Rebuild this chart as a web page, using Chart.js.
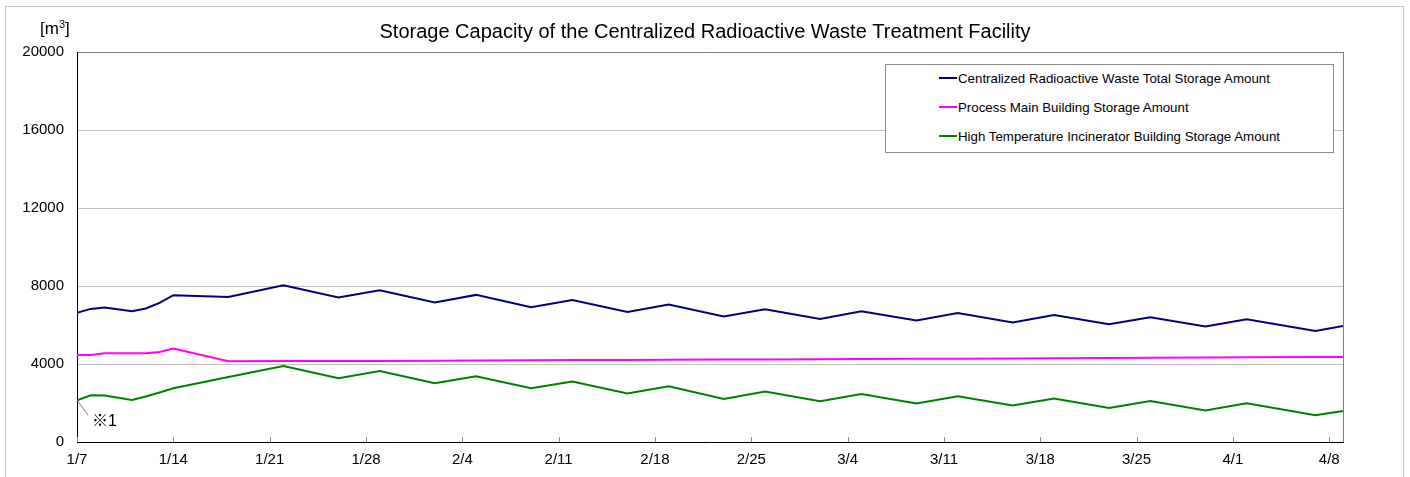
<!DOCTYPE html>
<html>
<head>
<meta charset="utf-8">
<script src="https://cdn.jsdelivr.net/npm/chart.js@4.4.1/dist/chart.umd.min.js"></script>
<style>
  html, body { margin: 0; padding: 0; background: #fff; overflow: hidden; }
  body { width: 1410px; height: 477px; position: relative; font-family: Arial, "Liberation Sans", sans-serif; }
  .frame { position: absolute; left: 5px; top: 6px; width: 1397px; height: 520px; border: 1px solid #c4c4c4; }
  canvas { position: absolute; left: 0; top: 0; }
  .unit { position: absolute; left: 40px; top: 19px; font-size: 17px; color: #000; line-height: 20px; }
  .unit sup { font-size: 11px; vertical-align: 6px; line-height: 0; }
  .note { position: absolute; font-size: 16px; line-height: 18px; color: #000; font-family: Arial, "Noto Sans CJK JP", sans-serif; }
  .legend { position: absolute; left: 885px; top: 64px; width: 447px; height: 87px; border: 1px solid #8c8c8c; background: #fff; }
  .legend .item { position: absolute; left: 53px; font-size: 13.3px; color: #000; white-space: nowrap; }
  .legend .swatch { display: inline-block; width: 18px; height: 2px; vertical-align: middle; margin-right: 1px; position: relative; top: -1px; }
</style>
</head>
<body>
<div class="frame"></div>
<canvas id="chart" width="1410" height="477"></canvas>
<div class="unit">[m<sup>3</sup>]</div>
<div class="note" id="note">※1</div>
<div class="legend" id="legend"></div>

<script>
// measured dates (year 2013, axis runs 1/7 .. 4/9)
const sampleDates = ['1/7', '1/8', '1/9', '1/11', '1/12', '1/13', '1/14', '1/18', '1/22', '1/26', '1/29',
  '2/2', '2/5', '2/9', '2/12', '2/16', '2/19', '2/23', '2/26',
  '3/2', '3/5', '3/9', '3/12', '3/16', '3/19', '3/23', '3/26', '3/30',
  '4/2', '4/7', '4/9'];

const totalStorage = [6620, 6826, 6897, 6708, 6846, 7133, 7529, 7441, 8042, 7410, 7785,
  7154, 7544, 6913, 7287, 6672, 7051, 6435, 6810,
  6312, 6708, 6230, 6620, 6127, 6518, 6040, 6400, 5922,
  6297, 5697, 5953];

const processMainStorage = [4465, 4465, 4552, 4552, 4552, 4619, 4793, 4141, 4150, 4155, 4160,
  4170, 4180, 4190, 4200, 4210, 4215, 4225, 4235,
  4245, 4255, 4265, 4275, 4285, 4295, 4305, 4315, 4330,
  4340, 4355, 4365];

const incineratorStorage = [2140, 2397, 2381, 2155, 2330, 2540, 2756, 3336, 3900, 3269, 3644,
  3012, 3372, 2756, 3100, 2484, 2858, 2207, 2587,
  2089, 2463, 1971, 2345, 1868, 2227, 1745, 2104, 1611,
  1986, 1370, 1591];

const tickLabels = ['1/7', '1/14', '1/21', '1/28', '2/4', '2/11', '2/18', '2/25', '3/4', '3/11', '3/18', '3/25', '4/1', '4/8'];
const axisStart = '1/7';
const axisEnd = '4/9';

const seriesNames = [
  'Centralized Radioactive Waste Total Storage Amount',
  'Process Main Building Storage Amount',
  'High Temperature Incinerator Building Storage Amount'
];
const seriesColors = ['#000080', '#ff00ff', '#008000'];

const YEAR = 2013;
function dayIndex(md) {
  const [m, d] = md.split('/').map(Number);
  const [m0, d0] = axisStart.split('/').map(Number);
  return Math.round((Date.UTC(YEAR, m - 1, d) - Date.UTC(YEAR, m0 - 1, d0)) / 86400000);
}
const toPoints = vals => vals.map((v, i) => ({ x: dayIndex(sampleDates[i]), y: v }));

const FONT = 'Arial, "Liberation Sans", sans-serif';

const frameAndNote = {
  id: 'frameAndNote',
  afterDraw(chart) {
    const { ctx, chartArea: a, scales: { x, y } } = chart;
    ctx.save();
    // inside tick marks on x axis
    ctx.strokeStyle = '#8c8c8c';
    ctx.lineWidth = 1;
    x.ticks.forEach(t => {
      const px = Math.round(x.getPixelForValue(t.value)) + 0.5;
      ctx.beginPath();
      ctx.moveTo(px, a.bottom);
      ctx.lineTo(px, a.bottom - 5);
      ctx.stroke();
    });
    // right border of plot area
    ctx.strokeStyle = '#808080';
    ctx.beginPath();
    ctx.moveTo(Math.round(a.right) + 0.5, a.top);
    ctx.lineTo(Math.round(a.right) + 0.5, a.bottom);
    ctx.stroke();
    // leader line for note 1
    const px = x.getPixelForValue(dayIndex(sampleDates[0]));
    const py = y.getPixelForValue(incineratorStorage[0]);
    ctx.strokeStyle = '#808080';
    ctx.beginPath();
    ctx.moveTo(px + 1, py + 1);
    ctx.lineTo(px + 11, py + 15);
    ctx.stroke();
    ctx.restore();
    const note = document.getElementById('note');
    note.style.left = (px + 15) + 'px';
    note.style.top = (py + 12) + 'px';
  }
};

const chart = new Chart(document.getElementById('chart'), {
  type: 'line',
  data: {
    datasets: [totalStorage, processMainStorage, incineratorStorage].map((vals, i) => ({
      label: seriesNames[i],
      data: toPoints(vals),
      borderColor: seriesColors[i],
      backgroundColor: seriesColors[i],
      borderWidth: 2,
      pointRadius: 0,
      tension: 0,
      fill: false
    }))
  },
  options: {
    responsive: false,
    animation: false,
    layout: { padding: 0 },
    plugins: {
      legend: { display: false },
      tooltip: { enabled: false },
      title: {
        display: true,
        text: 'Storage Capacity of the Centralized Radioactive Waste Treatment Facility',
        color: '#000',
        font: { family: FONT, size: 20, weight: 'normal' },
        padding: { top: 20, bottom: 8 }
      }
    },
    scales: {
      x: {
        type: 'linear',
        min: 0,
        max: dayIndex(axisEnd),
        afterBuildTicks: s => { s.ticks = tickLabels.map(l => ({ value: dayIndex(l) })); },
        afterFit: s => { s.height = 35; },
        grid: { drawOnChartArea: false, drawTicks: false },
        border: { display: true, color: '#000', width: 1 },
        ticks: {
          autoSkip: false,
          maxRotation: 0,
          padding: 9,
          color: '#000',
          font: { family: FONT, size: 15 },
          callback: (v, i) => tickLabels[i]
        }
      },
      y: {
        min: 0,
        max: 20000,
        afterFit: s => { s.width = 77; },
        grid: {
          drawTicks: false,
          color: c => (c.tick && c.tick.value === 20000 ? '#808080' : '#c0c0c0')
        },
        border: { display: true, color: '#000', width: 1 },
        ticks: {
          stepSize: 4000,
          padding: 13,
          color: '#000',
          font: { family: FONT, size: 15 },
          callback: v => String(v)
        }
      },
      // empty right-hand axis that only reserves the margin right of the plot
      yRight: {
        position: 'right',
        min: 0,
        max: 20000,
        afterFit: s => { s.width = 67; },
        grid: { display: false },
        border: { display: false },
        ticks: { display: false }
      }
    }
  },
  plugins: [frameAndNote]
});

// html legend built from the chart's datasets
const legend = document.getElementById('legend');
chart.data.datasets.forEach((ds, i) => {
  const row = document.createElement('div');
  row.className = 'item';
  row.style.top = (6 + i * 29) + 'px';
  const sw = document.createElement('span');
  sw.className = 'swatch';
  sw.style.background = ds.borderColor;
  row.appendChild(sw);
  row.appendChild(document.createTextNode(ds.label));
  legend.appendChild(row);
});
</script>
</body>
</html>
